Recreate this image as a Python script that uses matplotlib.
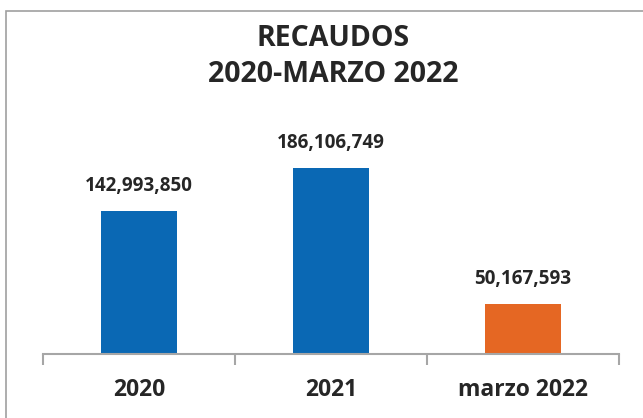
import matplotlib
matplotlib.use('Agg')
import matplotlib.pyplot as plt
from matplotlib.patches import Rectangle

categories = ['2020', '2021', 'marzo 2022']
values = [142993850, 186106749, 50167593]
colors = ['#0A68B4', '#0A68B4', '#E56723']

plt.rcParams['font.family'] = ['Open Sans', 'DejaVu Sans']

fig = plt.figure(figsize=(6.43, 4.18), dpi=100)
fig.patches.append(Rectangle((6/643, -0.1), 1.2, (418-11)/418 + 0.1, transform=fig.transFigure,
                             fill=False, edgecolor='#A0A0A0', linewidth=1.2))

ax = fig.add_axes([43/643, 64/418, 576/643, 200/418])
x = list(range(len(categories)))
ax.bar(x, values, width=0.4, color=colors)
ax.set_xlim(-0.5, 2.5)
ax.set_ylim(0, 200e6)

for xi, v in zip(x, values):
    ax.annotate('{:,}'.format(v), (xi, v), xytext=(0, 11), textcoords='offset points',
                ha='center', va='bottom', fontsize=13.6, fontweight='bold', color='#262626')

for s in ['top', 'right', 'left']:
    ax.spines[s].set_visible(False)
ax.spines['bottom'].set_color('#A6A6A6')
ax.spines['bottom'].set_linewidth(1.5)
ax.set_yticks([])
ax.set_xticks([-0.5, 0.5, 1.5, 2.5])
ax.set_xticklabels([])
ax.tick_params(axis='x', length=8, width=1.5, color='#A6A6A6')
ax.set_xticks(x, minor=True)
ax.set_xticklabels(categories, minor=True, fontsize=16.5, fontweight='bold', color='#262626')
ax.tick_params(axis='x', which='minor', length=0, pad=17)

fig.text(333/643, 1 - 38/418, 'RECAUDOS', ha='center', va='center', fontsize=20.5,
         fontweight='bold', color='#262626')
fig.text(333/643, 1 - 75/418, '2020-MARZO 2022', ha='center', va='center', fontsize=20.5,
         fontweight='bold', color='#262626')

fig.savefig('out.png', dpi=100)
